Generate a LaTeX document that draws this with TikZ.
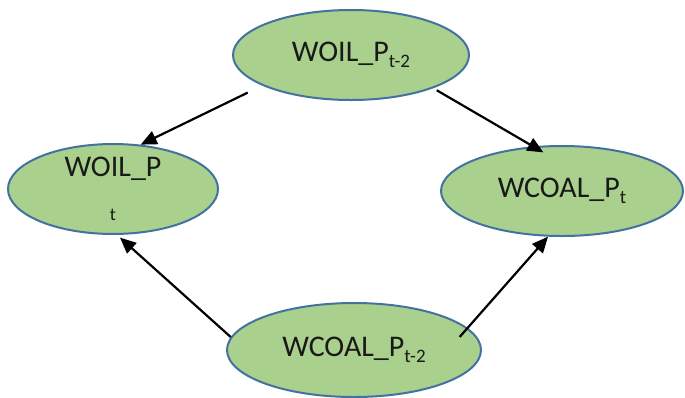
\documentclass[tikz,border=0pt]{standalone}
\usepackage{fontspec}
\setmainfont{Carlito}
\usetikzlibrary{positioning,arrows.meta,shapes.geometric}
\definecolor{nodegreen}{RGB}{169,208,140}
\definecolor{nodeblue}{RGB}{68,114,160}
\newcommand{\lagsub}[1]{\raisebox{-6pt}{\fontsize{19}{19}\selectfont #1}}

\begin{document}
\begin{tikzpicture}[
  x=1pt, y=-1pt,
  var/.style={ellipse, draw=nodeblue, line width=2pt, fill=nodegreen, inner sep=0pt, align=center, text=black!90, font=\fontsize{30}{32}\selectfont},
  arr/.style={-{Triangle[length=16pt,width=14pt]}, line width=2.2pt}
]
\useasboundingbox (0,0) rectangle (685,397);
\node[var, minimum width=236pt, minimum height=90pt] (oillag) at (351,55) {WOIL\_P\lagsub{t-2}};
\node[var, minimum width=210pt, minimum height=88pt] (oil) at (113,189) {WOIL\_P\\[12pt]{\fontsize{18}{18}\selectfont t}};
\node[var, minimum width=242pt, minimum height=90pt] (coal) at (562,191) {WCOAL\_P\lagsub{t}};
\node[var, minimum width=254pt, minimum height=94pt] (coallag) at (354,350) {WCOAL\_P\lagsub{t-2}};

\draw[arr, shorten <=16pt] (oillag.199) -- (oil.58);
\draw[arr, shorten <=4pt, shorten >=-12pt] (oillag.-22) -- (coal.123);
\draw[arr, shorten >=4pt] (coallag.174) -- (oil.-85);
\draw[arr, shorten <=-12pt] (coallag.11) -- (coal.253);
\end{tikzpicture}
\end{document}
